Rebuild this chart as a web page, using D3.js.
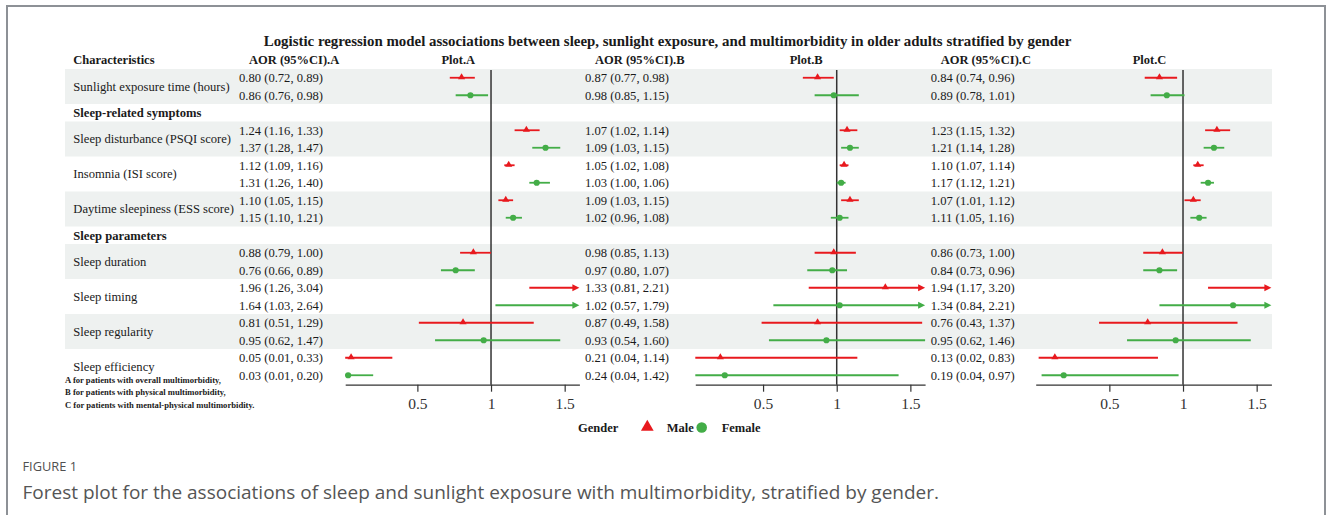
<!DOCTYPE html>
<html><head><meta charset="utf-8">
<script src="https://cdn.jsdelivr.net/npm/d3@7"></script>
<style>body{margin:0;background:#fff}svg{display:block}</style>
</head><body>
<script>
// ---- data ----
const characteristics = ["Sunlight exposure time (hours)","Sleep-related symptoms","Sleep disturbance (PSQI score)","Insomnia (ISI score)","Daytime sleepiness (ESS score)","Sleep parameters","Sleep duration","Sleep timing","Sleep regularity","Sleep efficiency"];
const isSection = [0,1,0,0,0,1,0,0,0,0];
const models = ["A","B","C"];
const genders = ["Male","Female"];
// per model, values for the 8 non-section characteristics
const maleOR_A = [0.80,1.24,1.12,1.10,0.88,1.96,0.81,0.05];
const maleLo_A = [0.72,1.16,1.09,1.05,0.79,1.26,0.51,0.01];
const maleHi_A = [0.89,1.33,1.16,1.15,1.00,3.04,1.29,0.33];
const femOR_A  = [0.86,1.37,1.31,1.15,0.76,1.64,0.95,0.03];
const femLo_A  = [0.76,1.28,1.26,1.10,0.66,1.03,0.62,0.01];
const femHi_A  = [0.98,1.47,1.40,1.21,0.89,2.64,1.47,0.20];
const maleOR_B = [0.87,1.07,1.05,1.09,0.98,1.33,0.87,0.21];
const maleLo_B = [0.77,1.02,1.02,1.03,0.85,0.81,0.49,0.04];
const maleHi_B = [0.98,1.14,1.08,1.15,1.13,2.21,1.58,1.14];
const femOR_B  = [0.98,1.09,1.03,1.02,0.97,1.02,0.93,0.24];
const femLo_B  = [0.85,1.03,1.00,0.96,0.80,0.57,0.54,0.04];
const femHi_B  = [1.15,1.15,1.06,1.08,1.07,1.79,1.60,1.42];
const maleOR_C = [0.84,1.23,1.10,1.07,0.86,1.94,0.76,0.13];
const maleLo_C = [0.74,1.15,1.07,1.01,0.73,1.17,0.43,0.02];
const maleHi_C = [0.96,1.32,1.14,1.12,1.00,3.20,1.37,0.83];
const femOR_C  = [0.89,1.21,1.17,1.11,0.84,1.34,0.95,0.19];
const femLo_C  = [0.78,1.14,1.12,1.05,0.73,0.84,0.62,0.04];
const femHi_C  = [1.01,1.28,1.21,1.16,0.96,2.21,1.46,0.97];
const xLimits = [[0.01,1.6],[0.04,1.6],[0,1.6]];
const tickValues = [0.5,1,1.5];
const refValue = 1;
const titleText = "Logistic regression model associations between sleep, sunlight exposure, and multimorbidity in older adults stratified by gender";
const footnotes = ["A for patients with overall multimorbidity,","B for patients with physical multimorbidity,","C for patients with mental-physical multimorbidity."];
const figLabel = "FIGURE 1";
const captionText = "Forest plot for the associations of sleep and sunlight exposure with multimorbidity, stratified by gender.";

// ---- build table ----
const dataSets = {
  A:{m:[maleOR_A,maleLo_A,maleHi_A],f:[femOR_A,femLo_A,femHi_A]},
  B:{m:[maleOR_B,maleLo_B,maleHi_B],f:[femOR_B,femLo_B,femHi_B]},
  C:{m:[maleOR_C,maleLo_C,maleHi_C],f:[femOR_C,femLo_C,femHi_C]}
};
const rows = [];
const groupRows = [];
let r = 0, k = 0;
characteristics.forEach((c,g)=>{
  if(isSection[g]){ groupRows.push({g,start:r,n:1}); rows.push({row:r,g,section:true}); r++; }
  else { groupRows.push({g,start:r,n:2}); rows.push({row:r,g,gender:0,k}); rows.push({row:r+1,g,gender:1,k}); r+=2; k++; }
});
const nRows = r;

// ---- layout ----
const W=1330,H=515;
const serif = "'Liberation Serif','Times New Roman',serif";
const sans = "'Open Sans','Noto Sans',sans-serif";
const RED="#e8191e", GREEN="#43ad47", BAND="#eef1f0", INK="#1a1a1a", AXIS="#333";
const svg = d3.select("body").append("svg").attr("width",W).attr("height",H);
svg.append("rect").attr("width",W).attr("height",H).attr("fill","#fff");
svg.append("rect").attr("x",7).attr("y",6).attr("width",1318).attr("height",600)
  .attr("fill","none").attr("stroke","#8d9196").attr("stroke-width",2);

const y = d3.scaleBand().domain(d3.range(nRows)).range([69,384]).padding(0);
const tableLeft = 65, tableRight = 1272, labelX = 73.3;
const textCols = [239,585,930.7];
const plotRanges = [[345.2,579.4],[695.3,925.1],[1035.7,1271.4]];
const xs = models.map((m,i)=>d3.scaleLinear().domain(xLimits[i]).range(plotRanges[i]));

// bands
svg.append("g").selectAll("rect").data(groupRows.filter(d=>d.g%2===0)).join("rect")
  .attr("x",tableLeft).attr("width",tableRight-tableLeft)
  .attr("y",d=>y(d.start)).attr("height",d=>y.step()*d.n).attr("fill",BAND);

// title
svg.append("text").attr("x",667.5).attr("y",46).attr("text-anchor","middle")
  .attr("font-family",serif).attr("font-weight","bold").attr("font-size",14.9).attr("fill",INK).text(titleText);

// headers
const hdrY = 63.5;
const hdr = svg.append("g").attr("font-family",serif).attr("font-weight","bold").attr("font-size",12.5).attr("fill",INK);
hdr.append("text").attr("x",labelX).attr("y",hdrY).text("Characteristics");
models.forEach((m,i)=>{
  hdr.append("text").attr("x",textCols[i]+10).attr("y",hdrY).text("AOR (95%CI)."+m);
  hdr.append("text").attr("x",(plotRanges[i][0]+plotRanges[i][1])/2 - 4).attr("y",hdrY).attr("text-anchor","middle").text("Plot."+m);
});

// row labels
const lab = svg.append("g").attr("font-family",serif).attr("font-size",12.6).attr("fill",INK);
groupRows.forEach(d=>{
  lab.append("text").attr("x",labelX)
    .attr("y", y(d.start)+y.step()*d.n/2+4.3)
    .attr("font-weight", isSection[d.g]?"bold":"normal")
    .text(characteristics[d.g]);
});

// text values
const f2 = d3.format(".2f");
const dataRows = rows.filter(d=>!d.section);
models.forEach((m,i)=>{
  const ds = dataSets[m];
  svg.append("g").attr("font-family",serif).attr("font-size",12.6).attr("fill",INK)
    .selectAll("text").data(dataRows).join("text")
    .attr("x",textCols[i]).attr("y",d=>y(d.row)+y.step()/2+4.3)
    .text(d=>{const s=d.gender===0?ds.m:ds.f; return `${f2(s[0][d.k])} (${f2(s[1][d.k])}, ${f2(s[2][d.k])})`;});
});

// plots
models.forEach((m,i)=>{
  const x = xs[i], ds = dataSets[m];
  const [x0,x1] = xLimits[i];
  const g = svg.append("g");
  g.append("line").attr("x1",x(refValue)).attr("x2",x(refValue)).attr("y1",y(0)+1).attr("y2",384.7)
    .attr("stroke",AXIS).attr("stroke-width",1.5);
  dataRows.forEach(d=>{
    const s = d.gender===0?ds.m:ds.f, col = d.gender===0?RED:GREEN;
    const est=s[0][d.k], lo=s[1][d.k], hi=s[2][d.k];
    const cy = y(d.row)+y.step()/2;
    const over = hi > x1;
    const xa = x(Math.max(lo,x0)), xb = x(Math.min(hi,x1));
    g.append("line").attr("x1",xa).attr("x2",over?xb-4:xb).attr("y1",cy).attr("y2",cy)
      .attr("stroke",col).attr("stroke-width",1.8);
    if(over){
      g.append("path").attr("d",`M${xb},${cy}L${xb-7},${cy-3.6}L${xb-7},${cy+3.6}Z`).attr("fill",col);
    }
    if(est>=x0 && est<=x1){
      if(d.gender===0){
        g.append("path").attr("d",d3.symbol(d3.symbolTriangle,22)()).attr("transform",`translate(${x(est)},${cy-0.5})`).attr("fill",col);
      } else {
        g.append("circle").attr("cx",x(est)).attr("cy",cy).attr("r",3.1).attr("fill",col);
      }
    }
  });
  const ax = g.append("g").attr("transform","translate(0,384.7)")
    .call(d3.axisBottom(x).tickValues(tickValues).tickFormat(d3.format("")).tickSize(7).tickSizeOuter(0).tickPadding(6));
  ax.select(".domain").attr("stroke",AXIS).attr("stroke-width",1.2);
  ax.selectAll(".tick line").attr("stroke",AXIS).attr("stroke-width",1.2);
  ax.selectAll(".tick text").attr("font-family",serif).attr("font-size",15.5).attr("fill",AXIS);
});

// footnotes
svg.append("g").attr("font-family",serif).attr("font-weight","bold").attr("font-size",8.6).attr("fill",INK)
  .selectAll("text").data(footnotes).join("text")
  .attr("x",65).attr("y",(d,i)=>382.5+i*12.7).text(d=>d);

// legend
const lg = svg.append("g").attr("font-family",serif).attr("font-weight","bold").attr("font-size",12.5).attr("fill",INK);
lg.append("text").attr("x",578).attr("y",432).text("Gender");
lg.append("path").attr("d",d3.symbol(d3.symbolTriangle,70)()).attr("transform","translate(647.3,427)").attr("fill",RED);
lg.append("text").attr("x",666.7).attr("y",432).text(genders[0]);
lg.append("circle").attr("cx",701.7).attr("cy",427.5).attr("r",5.3).attr("fill",GREEN);
lg.append("text").attr("x",721.7).attr("y",432).text(genders[1]);

// caption
svg.append("text").attr("x",22.5).attr("y",471).attr("font-family",sans).attr("font-size",12.8).attr("fill","#505050").text(figLabel);
svg.append("text").attr("x",22.5).attr("y",498.5).attr("font-family",sans).attr("font-size",19).attr("fill","#555").text(captionText);
</script>
</body></html>
